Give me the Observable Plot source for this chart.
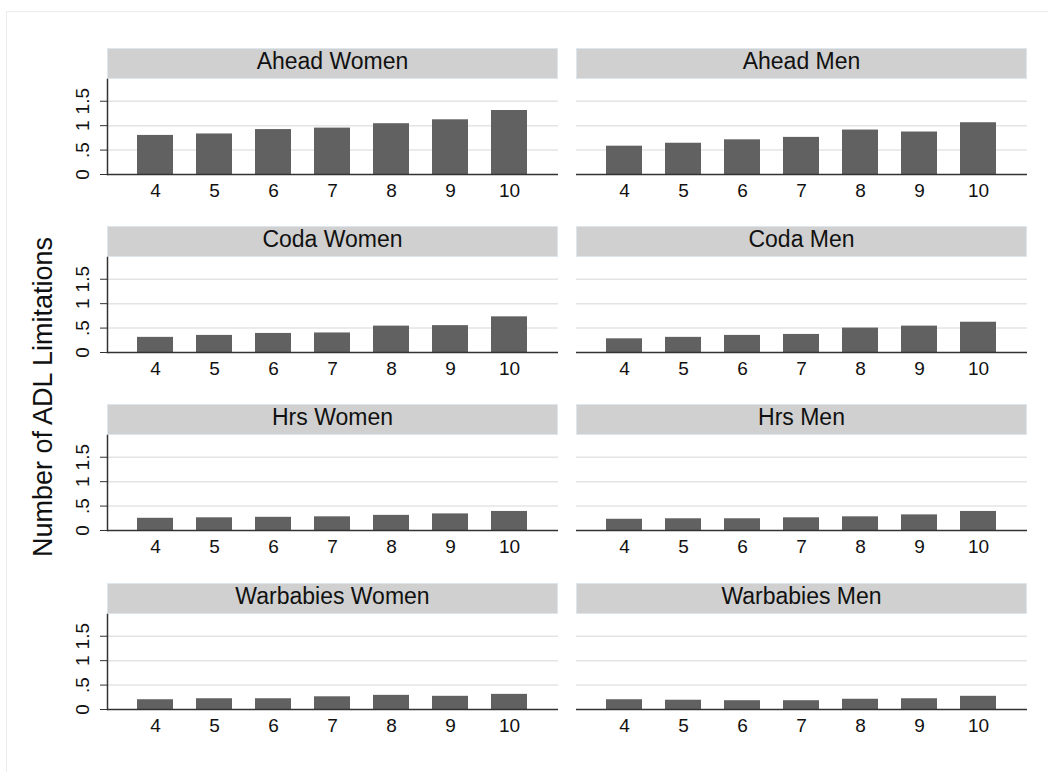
<!DOCTYPE html>
<html>
<head>
<meta charset="utf-8">
<script src="https://cdn.jsdelivr.net/npm/d3@7"></script>
<script src="https://cdn.jsdelivr.net/npm/@observablehq/plot@0.6"></script>
<style>
  html, body { margin: 0; padding: 0; background: #fff; }
  #root { position: relative; width: 1048px; height: 772px; overflow: hidden; font-family: "Liberation Sans", Arial, sans-serif; background: #fff; }
  .outer { position: absolute; left: 6px; top: 11px; width: 1200px; height: 900px; border: 1px solid #ececec; box-sizing: border-box; }
  .strip { position: absolute; height: 31px; background: #d0d0d0; border: 1px solid #dde6ec; box-sizing: border-box; text-align: center; font-size: 23px; line-height: 24px; color: #111; white-space: nowrap; }
  .panel { position: absolute; }
  .ytitle { position: absolute; left: 43px; top: 397px; transform: translate(-50%, -50%) rotate(-90deg); font-size: 27px; white-space: nowrap; color: #111; }
</style>
</head>
<body>
<div id="root"><div class="outer"></div></div>
<script>
// ---- data ----
const ages = [4, 5, 6, 7, 8, 9, 10];
const studies = ["Ahead", "Coda", "Hrs", "Warbabies"];
const sexes = ["Women", "Men"];
const aheadWomen     = [0.80, 0.83, 0.92, 0.95, 1.04, 1.12, 1.31];
const aheadMen       = [0.58, 0.64, 0.71, 0.76, 0.91, 0.87, 1.06];
const codaWomen      = [0.31, 0.35, 0.39, 0.40, 0.54, 0.55, 0.73];
const codaMen        = [0.28, 0.31, 0.35, 0.37, 0.50, 0.54, 0.62];
const hrsWomen       = [0.25, 0.26, 0.27, 0.28, 0.31, 0.34, 0.39];
const hrsMen         = [0.23, 0.24, 0.24, 0.26, 0.28, 0.32, 0.39];
const warbabiesWomen = [0.20, 0.22, 0.22, 0.26, 0.29, 0.27, 0.31];
const warbabiesMen   = [0.20, 0.19, 0.18, 0.18, 0.21, 0.22, 0.27];
const yTicks = [0, 0.5, 1, 1.5];
const yTickLabels = ["0", ".5", "1", "1.5"];
const yTitle = "Number of ADL Limitations";

const series = {
  Ahead: { Women: aheadWomen, Men: aheadMen },
  Coda: { Women: codaWomen, Men: codaMen },
  Hrs: { Women: hrsWomen, Men: hrsMen },
  Warbabies: { Women: warbabiesWomen, Men: warbabiesMen }
};

// ---- layout ----
const colLeft = [107, 576];
const panelW = 451;
const plotH = 95;
const stripH = 31;
const root = document.getElementById("root");

function panel(values, showY) {
  const data = ages.map((a, i) => ({ age: a, value: values[i] }));
  const yLabelData = yTicks.map((t, i) => ({ t, label: yTickLabels[i] }));
  return Plot.plot({
    width: showY ? colLeft[0] + panelW : panelW,
    height: 2 + plotH + 30,
    marginLeft: showY ? colLeft[0] : 0,
    marginRight: 0,
    marginTop: 2,
    marginBottom: 30,
    x: { type: "band", domain: ages, paddingInner: 0.384, paddingOuter: 0.477 },
    y: { domain: [0, 1.945], axis: null },
    style: { fontFamily: "'Liberation Sans', Arial, sans-serif", fontSize: "19px", background: "transparent", color: "#111", overflow: "visible" },
    marks: [
      Plot.gridY(yTicks.slice(1), { stroke: "#e4e4e4", strokeOpacity: 1, strokeWidth: 1.5 }),
      Plot.barY(data, { x: "age", y: "value", fill: "#616161" }),
      Plot.ruleY([0], { stroke: "#333", strokeWidth: 1.5 }),
      Plot.axisX({ tickSize: 0, tickPadding: 9, label: null, fontSize: 19 }),
      showY ? Plot.axisY(yTicks, { tickSize: 7, tickFormat: () => "", label: null, stroke: "#333" }) : null,
      showY ? Plot.text(yLabelData, { y: "t", text: "label", frameAnchor: "left", dx: -25, rotate: -90, fontSize: 19, fill: "#111", textAnchor: "middle", lineAnchor: "middle" }) : null,
      showY ? Plot.frame({ anchor: "left", stroke: "#333", strokeWidth: 1.5 }) : null
    ]
  });
}

studies.forEach((study, r) => {
  const baseline = 173.5 + r * 178.35;
  const plotTop = baseline - plotH;
  sexes.forEach((sex, c) => {
    const strip = document.createElement("div");
    strip.className = "strip";
    strip.style.left = colLeft[c] + "px";
    strip.style.width = panelW + "px";
    strip.style.top = (plotTop - stripH) + "px";
    strip.textContent = study + " " + sex;
    root.appendChild(strip);

    const showY = c === 0;
    const svg = panel(series[study][sex], showY);
    const wrap = document.createElement("div");
    wrap.className = "panel";
    wrap.style.left = (showY ? 0 : colLeft[c]) + "px";
    wrap.style.top = (plotTop - 2) + "px";
    wrap.appendChild(svg);
    root.appendChild(wrap);
  });
});

const yt = document.createElement("div");
yt.className = "ytitle";
yt.textContent = yTitle;
root.appendChild(yt);
</script>
</body>
</html>
